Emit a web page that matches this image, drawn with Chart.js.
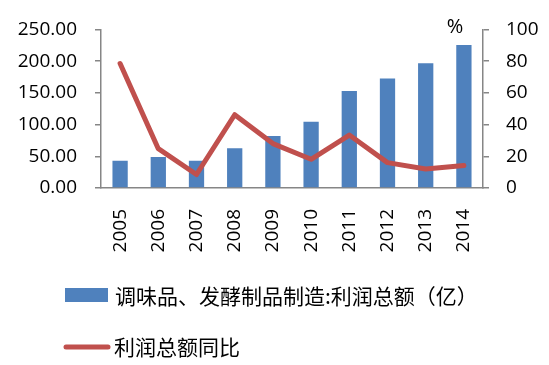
<!DOCTYPE html>
<html>
<head>
<meta charset="utf-8">
<script src="https://cdn.jsdelivr.net/npm/chart.js@4/dist/chart.umd.min.js"></script>
<style>
html,body{margin:0;padding:0;background:#fff;}
#wrap{width:549px;height:365px;position:relative;}
</style>
</head>
<body>
<div id="wrap"><canvas id="c" width="549" height="365"></canvas></div>
<script>
const categories = ['2005','2006','2007','2008','2009','2010','2011','2012','2013','2014'];
const profitValues = [43, 49, 43, 62.5, 82, 104.5, 153, 172.5, 196.5, 225.5];
const yoyValues = [78.5, 24.8, 8.5, 46.2, 28, 18.1, 33.4, 16, 12, 14.2];
const leftTicks = [0, 50, 100, 150, 200, 250];
const rightTicks = [0, 20, 40, 60, 80, 100];
const barLabel = '调味品、发酵制品制造:利润总额（亿）';
const lineLabel = '利润总额同比';
const unitLabel = '%';

const numFont = {family: '"Open Sans", "Liberation Sans", sans-serif', size: 19};
const cjkFont = '21px "Noto Sans CJK SC", sans-serif';
const axisColor = '#868686';

const legendPlugin = {
  id: 'customLegend',
  afterDraw(chart) {
    const ctx = chart.ctx;
    ctx.save();
    const ds = chart.data.datasets;
    ctx.fillStyle = ds[0].backgroundColor;
    ctx.fillRect(65, 288, 43, 14);
    ctx.fillStyle = '#000';
    ctx.font = cjkFont;
    ctx.textBaseline = 'middle';
    ctx.textAlign = 'left';
    ctx.fillText(ds[0].label, 115, 296);
    ctx.strokeStyle = ds[1].borderColor;
    ctx.lineWidth = 5;
    ctx.lineCap = 'round';
    ctx.beginPath();
    ctx.moveTo(66, 347);
    ctx.lineTo(108, 347);
    ctx.stroke();
    ctx.fillText(ds[1].label, 114, 347);
    ctx.font = '20px "Open Sans", "Liberation Sans", sans-serif';
    ctx.textAlign = 'center';
    ctx.fillText(unitLabel, 455, 27);
    ctx.restore();
  }
};

new Chart(document.getElementById('c'), {
  data: {
    labels: categories,
    datasets: [
      {
        type: 'bar',
        label: barLabel,
        data: profitValues,
        yAxisID: 'y',
        backgroundColor: '#4F81BD',
        barPercentage: 0.4,
        categoryPercentage: 1.0,
        order: 1
      },
      {
        type: 'line',
        label: lineLabel,
        data: yoyValues,
        yAxisID: 'y2',
        borderColor: '#C0504D',
        backgroundColor: '#C0504D',
        borderWidth: 5,
        pointRadius: 0,
        tension: 0,
        borderJoinStyle: 'round',
        borderCapStyle: 'round',
        order: 0
      }
    ]
  },
  options: {
    responsive: false,
    animation: false,
    layout: {padding: {top: 24, bottom: 0, left: 0, right: 0}},
    plugins: {legend: {display: false}, tooltip: {enabled: false}},
    scales: {
      x: {
        grid: {display: false, drawTicks: false},
        border: {display: true, color: axisColor, width: 1.5},
        ticks: {
          color: '#000', font: numFont, minRotation: 90, maxRotation: 90,
          padding: 21, autoSkip: false
        },
        afterFit(s) { s.height = 177; }
      },
      y: {
        position: 'left',
        min: 0, max: 250,
        afterBuildTicks(s) { s.ticks = leftTicks.map(v => ({value: v})); },
        grid: {display: true, drawOnChartArea: false, drawTicks: true, tickLength: 6, color: axisColor, lineWidth: 1.5},
        border: {display: true, color: axisColor, width: 1.5},
        ticks: {color: '#000', font: numFont, padding: 18, callback: v => Number(v).toFixed(2)},
        afterFit(s) { s.width = 101; }
      },
      y2: {
        position: 'right',
        min: 0, max: 100,
        afterBuildTicks(s) { s.ticks = rightTicks.map(v => ({value: v})); },
        grid: {display: true, drawOnChartArea: false, drawTicks: true, tickLength: 6, color: axisColor, lineWidth: 1.5},
        border: {display: true, color: axisColor, width: 1.5},
        ticks: {color: '#000', font: numFont, padding: 17, callback: v => String(v)},
        afterFit(s) { s.width = 66; }
      }
    }
  },
  plugins: [legendPlugin]
});
</script>
</body>
</html>
